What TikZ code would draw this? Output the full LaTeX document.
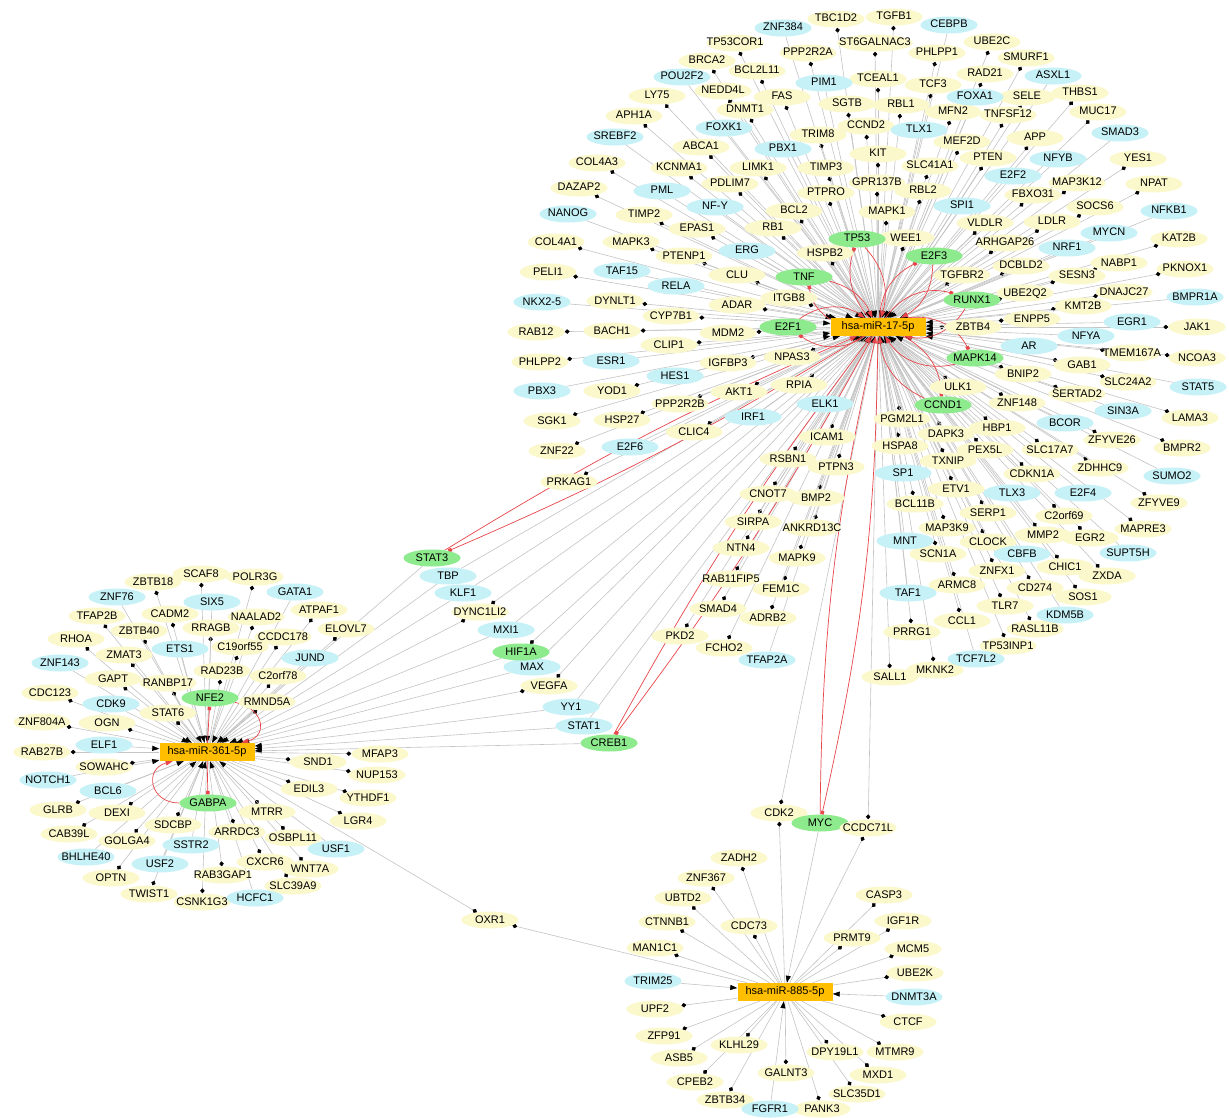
\documentclass[tikz,border=0pt]{standalone}
\usepackage{fontspec}
\newfontfamily\arialf{Liberation Sans}
\usetikzlibrary{arrows.meta,shapes.geometric,backgrounds}

\definecolor{jaune}{HTML}{FBF8CC}
\definecolor{cyan}{HTML}{C6F1F7}
\definecolor{vert}{HTML}{8DEB8D}
\definecolor{ambre}{HTML}{FFBE00}
\definecolor{lien}{HTML}{C4C4C4}
\definecolor{rouge}{HTML}{E8464A}

% cibles et regulateurs de chaque miARN : nom/x/y
\newcommand\cibleA{TP53COR1/735/43, BRCA2/707/61, NEDD4L/723/91, LY75/657/96,
 DNMT1/745/110, APH1A/634/116, ABCA1/701/147, COL4A3/597/163, KCNMA1/679/168,
 LIMK1/758/168, PDLIM7/730/184, DAZAP2/579/188, TBC1D2/836/19, TGFB1/894/17,
 UBE2C/992/42, ST6GALNAC3/875/43, PPP2R2A/808/53, PHLPP1/937/53, BCL2L11/757/71,
 RAD21/985/74, SMURF1/1026/58, TCEAL1/878/79, TCF3/933/85, FAS/782/97,
 SELE/1027/97, THBS1/1080/93, SGTB/847/104, RBL1/901/105, MFN2/953/112,
 TNFSF12/1008/115, MUC17/1098/112, CCND2/866/126, TRIM8/818/135, MEF2D/962/142,
 APP/1035/138, KIT/878/154, PTEN/988/158, YES1/1138/159, TIMP3/826/168,
 SLC41A1/930/166, MAP3K12/1077/183, NPAT/1154/184, GPR137B/877/183, RBL2/923/191,
 PTPRO/826/193, FBXO31/1033/195, TIMP2/644/215, EPAS1/697/229, COL4A1/556/242,
 MAPK3/631/242, PTENP1/684/256, PELI1/548/272, CLU/737/275, DYNLT1/615/301,
 ADAR/737/305, CYP7B1/671/316, RAB12/536/332, BACH1/612/331, MDM2/728/333,
 CLIP1/669/345, PHLPP2/540/362, IGFBP3/728/363, YOD1/612/391, AKT1/739/392,
 BCL2/794/211, MAPK1/887/212, VLDLR/985/223, RB1/773/228, WEE1/906/238,
 ARHGAP26/1005/243, HSPB2/825/253, TGFBR2/962/275, ITGB8/789/298, ZBTB4/973/327,
 NPAS3/792/357, RPIA/799/385, ULK1/958/387, SOCS6/1095/207, LDLR/1052/222,
 KAT2B/1179/239, DCBLD2/1021/266, NABP1/1119/263, PKNOX1/1185/269, SESN3/1077/276,
 UBE2Q2/1025/293, DNAJC27/1124/292, KMT2B/1083/306, ENPP5/1032/319, JAK1/1197/327,
 TMEM167A/1132/353, NCOA3/1197/358, GAB1/1082/365, BNIP2/1023/374,
 SLC24A2/1128/382, SERTAD2/1077/394, ZNF148/1017/403, LAMA3/1190/418,
 HBP1/997/428, ZFYVE26/1112/440, BMPR2/1182/448, PEX5L/985/450, SLC17A7/1050/450,
 ZDHHC9/1100/468, CDKN1A/1032/474, ZFYVE9/1159/503, SERP1/988/513,
 C2orf69/1064/516, MAPRE3/1143/529, MMP2/1043/535, EGR2/1090/538, CLOCK/988/542,
 CHIC1/1065/567, ZNFX1/997/571, ZXDA/1107/576, CD274/1035/588, SOS1/1083/597,
 TLR7/1005/606, RASL11B/1035/629, PGM2L1/902/419, DAPK3/946/434, HSPA8/900/446,
 TXNIP/948/461, ETV1/956/489, BCL11B/915/504, MAP3K9/947/528, SCN1A/938/554,
 ARMC8/957/585, PRRG1/912/632, CCL1/962/621, TP53INP1/1008/646, MKNK2/935/670,
 SALL1/890/677, PPP2R2B/680/404, CLIC4/694/432, ICAM1/827/437, RSBN1/788/459,
 PTPN3/836/467, CNOT7/768/494, BMP2/816/498, SIRPA/753/522, ANKRD13C/812/528,
 NTN4/741/548, MAPK9/797/558, RAB11FIP5/731/579, FEM1C/781/589, SMAD4/718/609,
 ADRB2/768/618, PKD2/680/636, FCHO2/724/648, SGK1/552/421, HSP27/622/420,
 ZNF22/557/451, PRKAG1/569/482}
\newcommand\regA{POU2F2/682/77, FOXK1/724/128, SREBF2/615/137, PML/662/191,
 ZNF384/783/28, CEBPB/949/25, PIM1/824/83, ASXL1/1053/76, FOXA1/975/97,
 TLX1/919/130, SMAD3/1120/133, PBX1/783/149, NFYB/1058/159, E2F2/1013/176,
 NANOG/568/214, ERG/747/251, TAF15/622/271, RELA/676/286, ESR1/611/361,
 HES1/675/376, PBX3/542/391, SPI1/962/206, NFKB1/1169/211, MYCN/1109/233,
 NRF1/1067/248, BMPR1A/1195/297, EGR1/1132/322, NFYA/1086/336, AR/1029/346,
 STAT5/1198/387, SIN3A/1123/411, BCOR/1065/423, SUMO2/1172/476, TLX3/1012/493,
 E2F4/1083/493, SUPT5H/1128/553, CBFB/1022/554, KDM5B/1065/615, SP1/903/473,
 MNT/905/541, TAF1/908/593, TCF7L2/976/659, ELK1/825/404, IRF1/753/417,
 E2F6/630/447, TFAP2A/767/660}
\newcommand\boucleA{TP53/857/239, TNF/804/277, E2F1/788/327, E2F3/934/256,
 RUNX1/972/300, MAPK14/975/358, CCND1/943/405}
\newcommand\regAB{TBP/448/576, KLF1/463/593, MXI1/506/630, MAX/532/667,
 YY1/571/707, STAT1/584/726}
\newcommand\cibleAB{DYNC1LI2/480/612, VEGFA/549/686}
\newcommand\cibleB{SCAF8/201/574, ZBTB18/153/582, POLR3G/255/577, TFAP2B/97/616,
 CADM2/170/614, NAALAD2/256/617, ATPAF1/319/610, RRAGB/211/628, ZBTB40/139/631,
 ELOVL7/346/629, RHOA/76/639, CCDC178/283/637, C19orf55/240/647, ZMAT3/124/655,
 RAD23B/222/671, GAPT/113/679, C2orf78/278/676, RANBP17/168/683, CDC123/50/693,
 RMND5A/267/702, STAT6/168/713, ZNF804A/42/722, OGN/107/723, RAB27B/42/752,
 MFAP3/380/754, SND1/318/762, SOWAHC/104/767, NUP153/377/775, EDIL3/309/789,
 YTHDF1/368/798, GLRB/58/810, DEXI/117/813, MTRR/267/812, LGR4/358/821,
 SDCBP/173/825, CAB39L/69/834, ARRDC3/237/832, OSBPL11/293/838, GOLGA4/127/841,
 CXCR6/265/862, WNT7A/310/869, RAB3GAP1/223/875, OPTN/111/878, SLC39A9/293/886,
 TWIST1/149/894, CSNK1G3/202/902}
\newcommand\regB{ZNF76/117/597, SIX5/212/602, GATA1/295/592, ETS1/180/649,
 JUND/310/658, ZNF143/60/663, CDK9/111/704, ELF1/104/745, NOTCH1/48/780,
 BCL6/108/791, SSTR2/191/845, USF1/336/849, BHLHE40/86/857, USF2/160/864,
 HCFC1/255/898}
\newcommand\cibleC{ZADH2/739/858, ZNF367/706/878, UBTD2/683/898, CASP3/884/895,
 CTNNB1/667/922, CDC73/749/926, IGF1R/903/921, PRMT9/852/938, MAN1C1/655/948,
 MCM5/913/949, UBE2K/915/973, UPF2/655/1009, CTCF/908/1022, ZFP91/664/1036,
 KLHL29/739/1045, DPY19L1/835/1052, MTMR9/895/1052, ASB5/679/1058,
 GALNT3/786/1073, MXD1/878/1075, CPEB2/695/1082, SLC35D1/857/1094,
 ZBTB34/725/1100, PANK3/822/1109}
\newcommand\regC{TRIM25/653/981, DNMT3A/914/997, FGFR1/770/1109}

\begin{document}
\begin{tikzpicture}[x=1pt, y=-1pt, font=\arialf\fontsize{11}{13}\selectfont,
	gene/.style={ellipse, inner xsep=-9pt, inner ysep=0pt, text height=8pt, text depth=2pt,
		minimum width=57pt, minimum height=17pt},
	tgt/.style={gene, fill=jaune},
	tf/.style={gene, fill=cyan},
	both/.style={gene, fill=vert},
	mir/.style={rectangle, fill=ambre, minimum width=95pt, minimum height=18pt, inner sep=1pt},
	hit/.style={draw=lien, line width=.6pt, -{Diamond[length=5pt,width=4.5pt,color=black]}},
	reg/.style={draw=lien, line width=.6pt, -{Triangle[length=7pt,width=5pt,color=black]}},
	fbhit/.style={draw=rouge, line width=.7pt, -{Square[length=3.5pt,width=3.5pt,color=rouge]}},
	fbreg/.style={draw=rouge, line width=.7pt, -{Triangle[length=7pt,width=5pt,color=rouge]}}]
	\useasboundingbox (0,0) rectangle (1229,1118);
	% les trois miARN
	\node[mir] (m17) at (878,327) {hsa-miR-17-5p};
	\node[mir] (m361) at (207,752) {hsa-miR-361-5p};
	\node[mir] (m885) at (785,992) {hsa-miR-885-5p};
	% genes
	\foreach \n/\x/\y in \cibleA \node[tgt] (\n) at (\x,\y) {\n};
	\foreach \n/\x/\y in \regA \node[tf] (\n) at (\x,\y) {\n};
	\node[tf] (NFY) at (715,207) {NF-Y};
	\node[tf] (NKX25) at (542,302) {NKX2-5};
	\foreach \n/\x/\y in \boucleA \node[both] (\n) at (\x,\y) {\n};
	\foreach \n/\x/\y in \regAB \node[tf] (\n) at (\x,\y) {\n};
	\foreach \n/\x/\y in \cibleAB \node[tgt] (\n) at (\x,\y) {\n};
	\node[both] (STAT3) at (432,558) {STAT3};
	\node[both] (HIF1A) at (521,652) {HIF1A};
	\node[both] (CREB1) at (609,743) {CREB1};
	\foreach \n/\x/\y in \cibleB \node[tgt] (\n) at (\x,\y) {\n};
	\foreach \n/\x/\y in \regB \node[tf] (\n) at (\x,\y) {\n};
	\node[both] (NFE2) at (210,698) {NFE2};
	\node[both] (GABPA) at (208,803) {GABPA};
	\foreach \n/\x/\y in \cibleC \node[tgt] (\n) at (\x,\y) {\n};
	\foreach \n/\x/\y in \regC \node[tf] (\n) at (\x,\y) {\n};
	\node[tgt] (CDK2) at (779,813) {CDK2};
	\node[both] (MYC) at (820,823) {MYC};
	\node[tgt] (CCDC71L) at (868,828) {CCDC71L};
	\node[tgt] (OXR1) at (490,920) {OXR1};
	% liens
	\begin{pgfonlayer}{background}
		\fill[white] (0,0) rectangle (1229,1118);
		\foreach \n/\x/\y in \cibleA \draw[hit] (m17) -- (\n);
		\foreach \n/\x/\y in \regA \draw[reg] (\n) -- (m17);
		\draw[reg] (NFY) -- (m17);
		\draw[reg] (NKX25) -- (m17);
		\foreach \n/\x/\y in \regAB {
			\draw[reg] (\n) -- (m17);
			\draw[reg] (\n) -- (m361);
		}
		\foreach \n/\x/\y in \cibleAB {
			\draw[hit] (m17) -- (\n);
			\draw[hit] (m361) -- (\n);
		}
		\draw[hit] (m17) -- (HIF1A);
		\draw[reg] (HIF1A) -- (m361);
		\draw[reg] (STAT3) -- (m361);
		\draw[reg] (CREB1) -- (m361);
		\foreach \n/\x/\y in \cibleB \draw[hit] (m361) -- (\n);
		\foreach \n/\x/\y in \regB \draw[reg] (\n) -- (m361);
		\foreach \n/\x/\y in \cibleC \draw[hit] (m885) -- (\n);
		\foreach \n/\x/\y in \regC \draw[reg] (\n) -- (m885);
		\foreach \n in {CDK2, CCDC71L} {
			\draw[hit] (m17) -- (\n);
			\draw[hit] (m885) -- (\n);
		}
		\draw[reg] (MYC) -- (m885);
		\draw[hit] (m361) -- (OXR1);
		\draw[hit] (m885) -- (OXR1);
		% boucles
		\foreach \n/\b in {TP53/30, TNF/25, E2F1/35, E2F3/30, RUNX1/35, MAPK14/35,
			CCND1/30, STAT3/4, CREB1/4, MYC/6} {
			\draw[fbhit] (m17) to[bend left=\b] (\n);
			\draw[fbreg] (\n) to[bend left=\b] (m17);
		}
		\draw[fbhit] (m361) -- (NFE2);
		\draw[fbreg] (NFE2) to[out=-10, in=15, looseness=1.8] (m361);
		\draw[fbhit] (m361) -- (GABPA);
		\draw[fbreg] (GABPA) to[out=180, in=195, looseness=1.8] (m361);
	\end{pgfonlayer}
\end{tikzpicture}
\end{document}
